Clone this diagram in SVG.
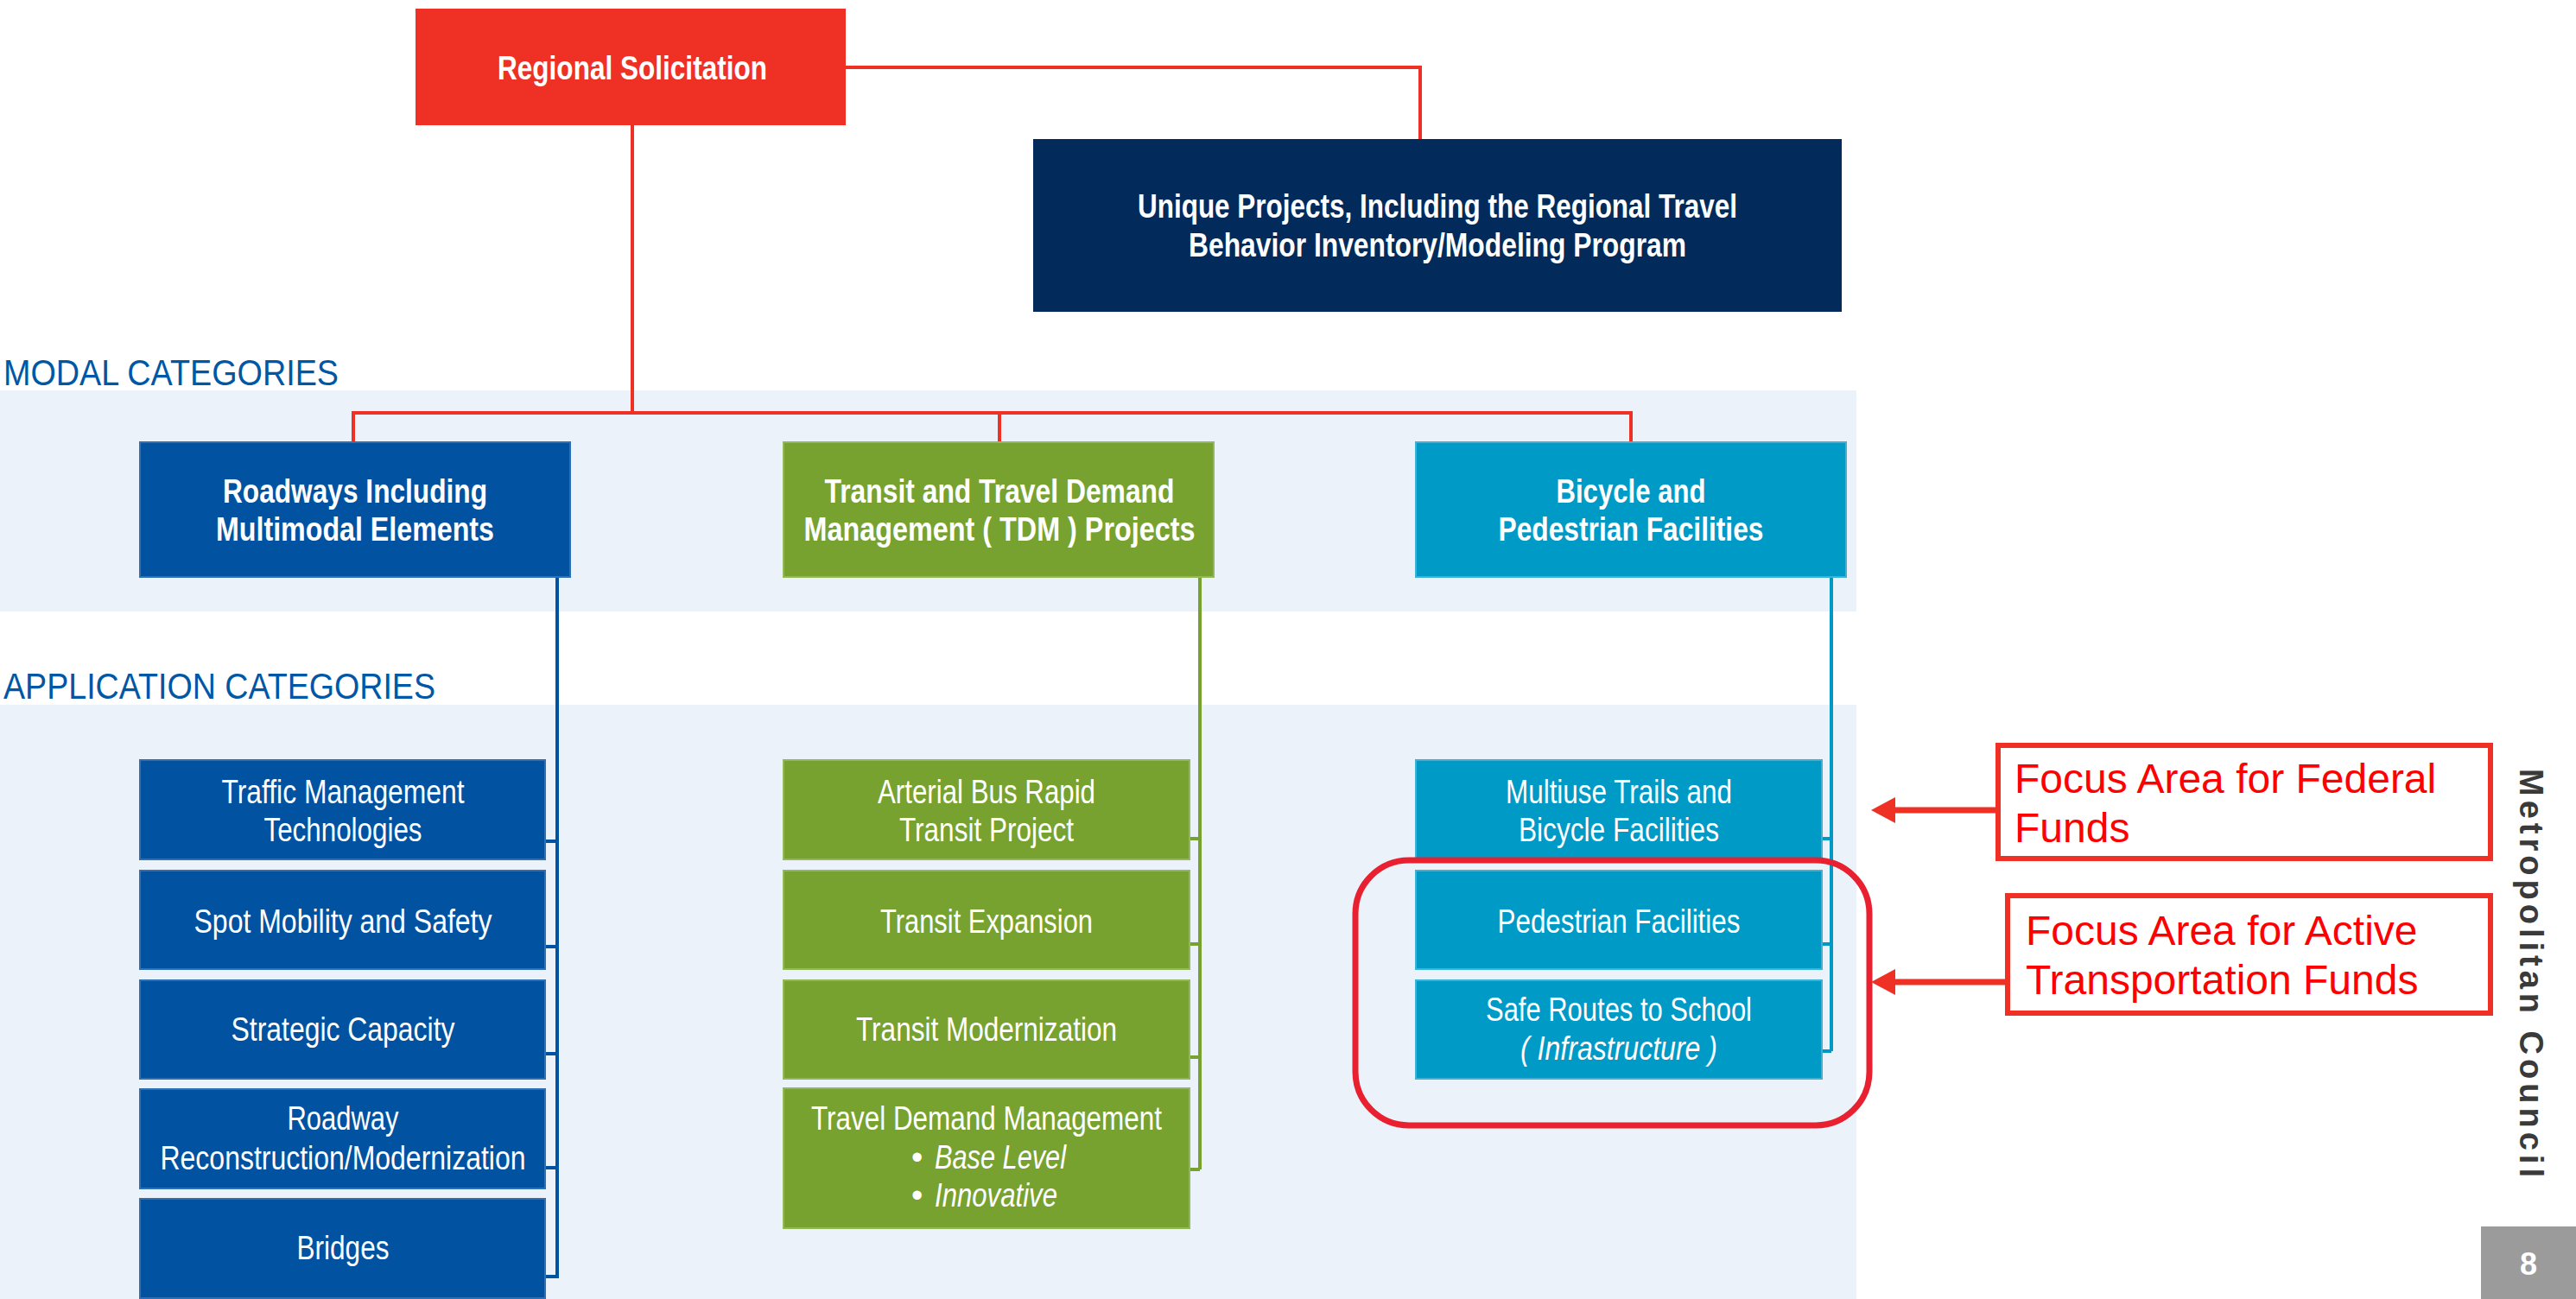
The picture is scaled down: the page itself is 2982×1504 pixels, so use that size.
<svg xmlns="http://www.w3.org/2000/svg" width="2982" height="1504" viewBox="0 0 2982 1504">
<style>
text{font-family:"Liberation Sans Narrow","Liberation Sans",Arial,sans-serif}
.w{fill:#FFFFFF;text-anchor:middle}
.b{font-weight:bold;font-size:39px}
.r{font-size:38px}
.cat{fill:#0057A5;font-size:42px}
.band{fill:#EBF2FA}
.red-c{stroke:#EE3124;stroke-width:4;fill:none}
.blue-c{stroke:#0053A0;stroke-width:4;fill:none}
.green-c{stroke:#78A22F;stroke-width:4;fill:none}
.cyan-c{stroke:#0099C6;stroke-width:4;fill:none}
.nb{fill:#0152A1;stroke:#2F6FB3;stroke-width:2}
.ng{fill:#78A22F;stroke:#93B85A;stroke-width:2}
.nc{fill:#009AC7;stroke:#3DB1D6;stroke-width:2}
.note{fill:none;stroke:#EE3124;stroke-width:6}
.nt{fill:#FF0000;font-family:"Liberation Sans",Arial,sans-serif;font-size:48px}
</style>
<rect width="2982" height="1504" fill="#FFFFFF"/>
<rect class="band" x="0" y="452" width="2149" height="256"/>
<rect class="band" x="0" y="816" width="2149" height="688"/>
<text class="cat" x="4" y="446" textLength="388" lengthAdjust="spacingAndGlyphs">MODAL CATEGORIES</text>
<text class="cat" x="4" y="809" textLength="500" lengthAdjust="spacingAndGlyphs">APPLICATION CATEGORIES</text>

<g id="connectors">
<path class="red-c" d="M979,78 H1644 V161 M732,145 V478 M409,512 V478 H1888 V512 M1157,478 V512"/>
<path class="blue-c" d="M645,668 V1480 M631,974 H645 M631,1096 H645 M631,1220 H645 M631,1352 H645 M631,1478 H645"/>
<path class="green-c" d="M1389,668 V1354 M1377,971 H1389 M1377,1093 H1389 M1377,1224 H1389 M1377,1354 H1389"/>
<path class="cyan-c" d="M2120,668 V1217 M2109,971 H2120 M2109,1093 H2120 M2109,1217 H2120"/>
</g>

<g id="regional-solicitation">
<rect x="481" y="10" width="498" height="135" fill="#EE3124"/>
<text class="w b" x="732" y="92" textLength="312" lengthAdjust="spacingAndGlyphs">Regional Solicitation</text>
</g>
<g id="unique-projects">
<rect x="1196" y="161" width="936" height="200" fill="#022B5C"/>
<text class="w b" x="1664" y="252" textLength="694" lengthAdjust="spacingAndGlyphs">Unique Projects, Including the Regional Travel</text>
<text class="w b" x="1664" y="297" textLength="576" lengthAdjust="spacingAndGlyphs">Behavior Inventory/Modeling Program</text>
</g>

<g id="roadways">
<rect class="nb" x="162" y="512" width="498" height="156"/>
<text class="w b" x="411" y="582" textLength="306" lengthAdjust="spacingAndGlyphs">Roadways Including</text>
<text class="w b" x="411" y="626" textLength="322" lengthAdjust="spacingAndGlyphs">Multimodal Elements</text>
</g>
<g id="transit-tdm">
<rect class="ng" x="907" y="512" width="498" height="156"/>
<text class="w b" x="1157" y="582" textLength="405" lengthAdjust="spacingAndGlyphs">Transit and Travel Demand</text>
<text class="w b" x="1157" y="626" textLength="453" lengthAdjust="spacingAndGlyphs">Management ( TDM ) Projects</text>
</g>
<g id="bicycle-pedestrian">
<rect class="nc" x="1639" y="512" width="498" height="156"/>
<text class="w b" x="1888" y="582" textLength="173" lengthAdjust="spacingAndGlyphs">Bicycle and</text>
<text class="w b" x="1888" y="626" textLength="307" lengthAdjust="spacingAndGlyphs">Pedestrian Facilities</text>
</g>

<g id="traffic-management">
<rect class="nb" x="162" y="880" width="469" height="115"/>
<text class="w r" x="397" y="930" textLength="281" lengthAdjust="spacingAndGlyphs">Traffic Management</text>
<text class="w r" x="397" y="974" textLength="183" lengthAdjust="spacingAndGlyphs">Technologies</text>
</g>
<g id="spot-mobility">
<rect class="nb" x="162" y="1008" width="469" height="114"/>
<text class="w r" x="397" y="1080" textLength="345" lengthAdjust="spacingAndGlyphs">Spot Mobility and Safety</text>
</g>
<g id="strategic-capacity">
<rect class="nb" x="162" y="1135" width="469" height="114"/>
<text class="w r" x="397" y="1205" textLength="259" lengthAdjust="spacingAndGlyphs">Strategic Capacity</text>
</g>
<g id="roadway-reconstruction">
<rect class="nb" x="162" y="1261" width="469" height="115"/>
<text class="w r" x="397" y="1308" textLength="129" lengthAdjust="spacingAndGlyphs">Roadway</text>
<text class="w r" x="397" y="1354" textLength="423" lengthAdjust="spacingAndGlyphs">Reconstruction/Modernization</text>
</g>
<g id="bridges">
<rect class="nb" x="162" y="1388" width="469" height="115"/>
<text class="w r" x="397" y="1458" textLength="107" lengthAdjust="spacingAndGlyphs">Bridges</text>
</g>

<g id="arterial-brt">
<rect class="ng" x="907" y="880" width="470" height="115"/>
<text class="w r" x="1142" y="930" textLength="252" lengthAdjust="spacingAndGlyphs">Arterial Bus Rapid</text>
<text class="w r" x="1142" y="974" textLength="202" lengthAdjust="spacingAndGlyphs">Transit Project</text>
</g>
<g id="transit-expansion">
<rect class="ng" x="907" y="1008" width="470" height="114"/>
<text class="w r" x="1142" y="1080" textLength="246" lengthAdjust="spacingAndGlyphs">Transit Expansion</text>
</g>
<g id="transit-modernization">
<rect class="ng" x="907" y="1135" width="470" height="114"/>
<text class="w r" x="1142" y="1205" textLength="302" lengthAdjust="spacingAndGlyphs">Transit Modernization</text>
</g>
<g id="travel-demand-management">
<rect class="ng" x="907" y="1260" width="470" height="162"/>
<text class="w r" x="1142" y="1308" textLength="406" lengthAdjust="spacingAndGlyphs">Travel Demand Management</text>
<text class="r" fill="#FFFFFF" x="1055" y="1353">•<tspan x="1082" font-style="italic" textLength="152" lengthAdjust="spacingAndGlyphs">Base Level</tspan></text>
<text class="r" fill="#FFFFFF" x="1055" y="1397">•<tspan x="1082" font-style="italic" textLength="142" lengthAdjust="spacingAndGlyphs">Innovative</tspan></text>
</g>

<g id="multiuse-trails">
<rect class="nc" x="1639" y="880" width="470" height="115"/>
<text class="w r" x="1874" y="930" textLength="262" lengthAdjust="spacingAndGlyphs">Multiuse Trails and</text>
<text class="w r" x="1874" y="974" textLength="232" lengthAdjust="spacingAndGlyphs">Bicycle Facilities</text>
</g>
<g id="pedestrian-facilities">
<rect class="nc" x="1639" y="1008" width="470" height="114"/>
<text class="w r" x="1874" y="1080" textLength="281" lengthAdjust="spacingAndGlyphs">Pedestrian Facilities</text>
</g>
<g id="safe-routes">
<rect class="nc" x="1639" y="1135" width="470" height="114"/>
<text class="w r" x="1874" y="1182" textLength="308" lengthAdjust="spacingAndGlyphs">Safe Routes to School</text>
<text class="w r" x="1874" y="1227" font-style="italic" textLength="228" lengthAdjust="spacingAndGlyphs">( Infrastructure )</text>
</g>

<g id="active-highlight">
<rect x="1569" y="996" width="595" height="307" rx="62" fill="none" stroke="#E8202F" stroke-width="7"/>
</g>

<g id="federal-note">
<rect class="note" x="2313" y="863" width="570" height="131"/>
<text class="nt" x="2332" y="918">Focus Area for Federal</text>
<text class="nt" x="2332" y="975">Funds</text>
</g>
<g id="active-note">
<rect class="note" x="2324" y="1037" width="559" height="136"/>
<text class="nt" x="2345" y="1094">Focus Area for Active</text>
<text class="nt" x="2345" y="1151">Transportation Funds</text>
</g>
<g id="arrows">
<path d="M2311,938 H2190 M2322,1137 H2190" stroke="#EE3124" stroke-width="7" fill="none"/>
<polygon points="2166,938 2194,923 2194,953" fill="#EE3124"/>
<polygon points="2166,1137 2194,1122 2194,1152" fill="#EE3124"/>
</g>

<text transform="translate(2917,890) rotate(90)" x="0" y="0" font-family="Liberation Sans,Arial,sans-serif" font-weight="bold" font-size="38" fill="#3A3A3A" textLength="473" lengthAdjust="spacing">Metropolitan Council</text>
<rect x="2872" y="1420" width="110" height="84" fill="#9B9B9B"/>
<text x="2927" y="1476" text-anchor="middle" font-family="Liberation Sans,Arial,sans-serif" font-weight="bold" font-size="36" fill="#FFFFFF">8</text>
</svg>
